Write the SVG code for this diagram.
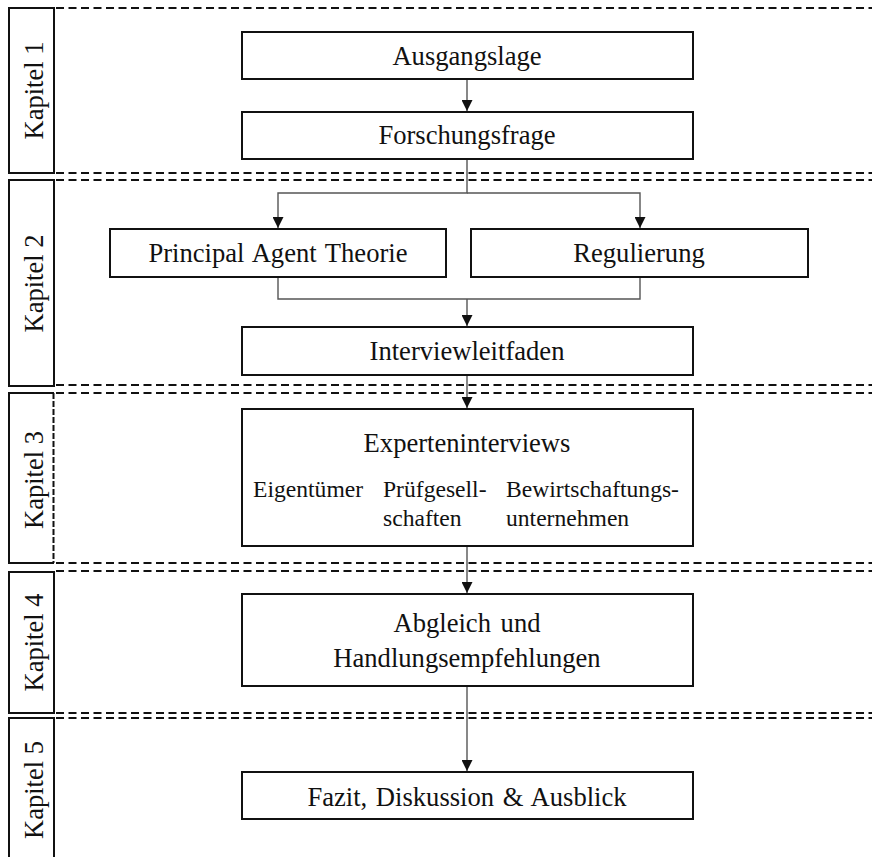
<svg xmlns="http://www.w3.org/2000/svg" width="872" height="857" viewBox="0 0 872 857">
<style>
.bg{fill:#fff}
.box{fill:#fff;stroke:#111;stroke-width:2}
.kap{fill:none;stroke:#111;stroke-width:2}
.dash{stroke:#111;stroke-width:2;stroke-dasharray:8 4.5;fill:none}
.t{font-family:"Liberation Serif","Times New Roman",serif;font-size:26.6px;fill:#111;text-anchor:middle}
.s{font-family:"Liberation Serif","Times New Roman",serif;font-size:23.6px;fill:#111}
.k{font-family:"Liberation Serif","Times New Roman",serif;font-size:26.5px;fill:#111;text-anchor:middle}
.c{fill:none;stroke:#555;stroke-width:1.4}
</style>
<defs>
<marker id="arr" markerUnits="userSpaceOnUse" markerWidth="11" markerHeight="11" refX="10" refY="5" orient="auto" viewBox="0 0 10 10">
<path d="M0,0 L10,5 L0,10 z" fill="#111"/>
</marker>
</defs>
<rect class="bg" x="0" y="0" width="872" height="857"/>

<g id="sections">
<line class="dash" x1="56" y1="8" x2="872" y2="8"/>
<line class="dash" x1="56" y1="173" x2="872" y2="173"/>
<line class="dash" x1="56" y1="180" x2="872" y2="180"/>
<line class="dash" x1="56" y1="385" x2="872" y2="385"/>
<line class="dash" x1="56" y1="393" x2="872" y2="393"/>
<line class="dash" x1="56" y1="563" x2="872" y2="563"/>
<line class="dash" x1="56" y1="571" x2="872" y2="571"/>
<line class="dash" x1="56" y1="713" x2="872" y2="713"/>
<line class="dash" x1="56" y1="718" x2="872" y2="718"/>
</g>

<g id="kapitel1">
<rect class="kap" x="9" y="8" width="45" height="165"/>
<text class="k" transform="translate(42.5,90.5) rotate(-90)">Kapitel 1</text>
</g>
<g id="kapitel2">
<rect class="kap" x="9" y="180" width="45" height="206"/>
<text class="k" transform="translate(42.5,283.5) rotate(-90)">Kapitel 2</text>
</g>
<g id="kapitel3">
<path class="kap" d="M54,393 H9 V563 H54"/>
<line x1="53.5" y1="393" x2="53.5" y2="563" stroke="#111" stroke-width="2" stroke-dasharray="6 2"/>
<text class="k" transform="translate(42.5,480) rotate(-90)">Kapitel 3</text>
</g>
<g id="kapitel4">
<rect class="kap" x="9" y="572" width="45" height="141"/>
<text class="k" transform="translate(42.5,642.5) rotate(-90)">Kapitel 4</text>
</g>
<g id="kapitel5">
<rect class="kap" x="9" y="718" width="45" height="160"/>
<text class="k" transform="translate(42.5,790) rotate(-90)">Kapitel 5</text>
</g>

<g id="connectors">
<path class="c" d="M467,79 V111" marker-end="url(#arr)"/>
<path class="c" d="M467,159 V193 H278 V228" marker-end="url(#arr)"/>
<path class="c" d="M467,193 H640 V228" marker-end="url(#arr)"/>
<path class="c" d="M278,277 V299 H640 V277"/>
<path class="c" d="M467,299 V326" marker-end="url(#arr)"/>
<path class="c" d="M467,375 V408" marker-end="url(#arr)"/>
<path class="c" d="M467,546 V593" marker-end="url(#arr)"/>
<path class="c" d="M467,686 V771" marker-end="url(#arr)"/>
</g>

<g id="ausgangslage">
<rect class="box" x="242" y="32" width="451" height="47"/>
<text class="t" x="467" y="65">Ausgangslage</text>
</g>
<g id="forschungsfrage">
<rect class="box" x="242" y="112" width="451" height="47"/>
<text class="t" x="467" y="144">Forschungsfrage</text>
</g>
<g id="principal">
<rect class="box" x="110" y="229" width="336" height="48"/>
<text class="t" x="278" y="262" word-spacing="2">Principal Agent Theorie</text>
</g>
<g id="regulierung">
<rect class="box" x="471" y="229" width="337" height="48"/>
<text class="t" x="639" y="262">Regulierung</text>
</g>
<g id="interviewleitfaden">
<rect class="box" x="242" y="327" width="451" height="48"/>
<text class="t" x="467" y="360">Interviewleitfaden</text>
</g>
<g id="experteninterviews">
<rect class="box" x="242" y="409" width="451" height="137"/>
<text class="t" x="467" y="452">Experteninterviews</text>
<text class="s" x="253" y="497">Eigentümer</text>
<text class="s" x="383" y="497">Prüfgesell-</text>
<text class="s" x="383" y="526">schaften</text>
<text class="s" x="506" y="497">Bewirtschaftungs-</text>
<text class="s" x="506" y="526">unternehmen</text>
</g>
<g id="abgleich">
<rect class="box" x="242" y="594" width="451" height="92"/>
<text class="t" x="467" y="632" word-spacing="3">Abgleich und</text>
<text class="t" x="467" y="667">Handlungsempfehlungen</text>
</g>
<g id="fazit">
<rect class="box" x="242" y="772" width="451" height="47"/>
<text class="t" x="467" y="806" word-spacing="2">Fazit, Diskussion &amp; Ausblick</text>
</g>
</svg>
